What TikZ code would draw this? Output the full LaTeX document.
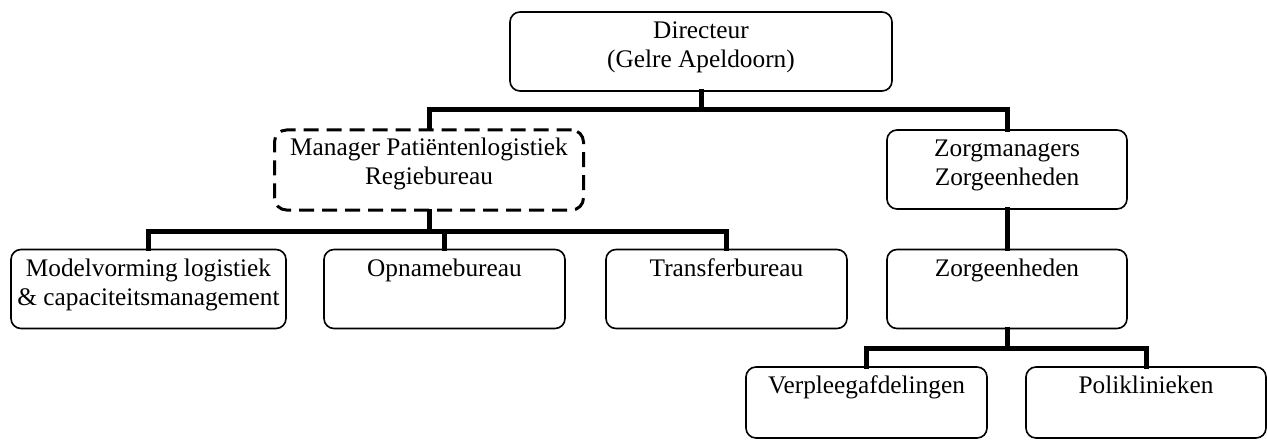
\documentclass[tikz,border=0pt]{standalone}
\usepackage{fontspec}
\setmainfont{Liberation Serif}
\begin{document}
\begin{tikzpicture}[x=1pt,y=-1pt,
  box/.style={draw=black,line width=1.6pt,rounded corners=10pt,inner sep=0pt},
  dbox/.style={draw=black,line width=3pt,rounded corners=12pt,inner sep=0pt,dash pattern=on 15pt off 8pt},
  lbl/.style={anchor=north,inner sep=0pt,align=center,font=\fontsize{25.3}{29}\selectfont,yshift=-6.9pt},
  conn/.style={line width=5pt,line cap=rect,line join=miter}]
\useasboundingbox (0,0) rectangle (1267,441);
% boxes
\node[box,minimum width=382pt,minimum height=79pt] (dir) at (701,51.5) {};
\node[dbox,minimum width=309pt,minimum height=80pt] (mgr) at (429,170) {};
\node[box,minimum width=240pt,minimum height=79pt] (zm) at (1007,169.5) {};
\node[box,minimum width=275pt,minimum height=79pt] (mod) at (148.5,289) {};
\node[box,minimum width=241pt,minimum height=79pt] (opn) at (444.5,289) {};
\node[box,minimum width=241pt,minimum height=79pt] (trf) at (726.5,289) {};
\node[box,minimum width=240pt,minimum height=79pt] (zeh) at (1007,289) {};
\node[box,minimum width=241pt,minimum height=71pt] (vpl) at (866.5,402.5) {};
\node[box,minimum width=240pt,minimum height=71pt] (pol) at (1146,402.5) {};
% labels
\node[lbl] (dir-t) at (dir.north) {\strut Directeur\\(Gelre Apeldoorn)};
\node[lbl] (mgr-t) at (mgr.north) {\strut Manager Patiëntenlogistiek\\Regiebureau};
\node[lbl] (zm-t) at (zm.north) {\strut Zorgmanagers\\Zorgeenheden};
\node[lbl] (mod-t) at (mod.north) {\strut Modelvorming logistiek\\\& capaciteitsmanagement};
\node[lbl] (opn-t) at (opn.north) {\strut Opnamebureau};
\node[lbl] (trf-t) at (trf.north) {\strut Transferbureau};
\node[lbl] (zeh-t) at (zeh.north) {\strut Zorgeenheden};
\node[lbl] (vpl-t) at (vpl.north) {\strut Verpleegafdelingen};
\node[lbl] (pol-t) at (pol.north) {\strut Poliklinieken};
% junctions
\coordinate (j1) at (701,110);
\coordinate (j2) at (429,231);
\coordinate (j3) at (1007,348);
% connectors
\draw[conn] (dir.south) -- (j1);
\draw[conn] (mgr.north) |- (j1) -| (zm.north);
\draw[conn] (mgr.south) -- (j2);
\draw[conn] (mod.north) |- (j2) -| (trf.north);
\draw[conn] (opn.north) -- (opn.north |- j2);
\draw[conn] (zm.south) -- (zeh.north);
\draw[conn] (zeh.south) -- (j3);
\draw[conn] (vpl.north) |- (j3) -| (pol.north);
\end{tikzpicture}
\end{document}
